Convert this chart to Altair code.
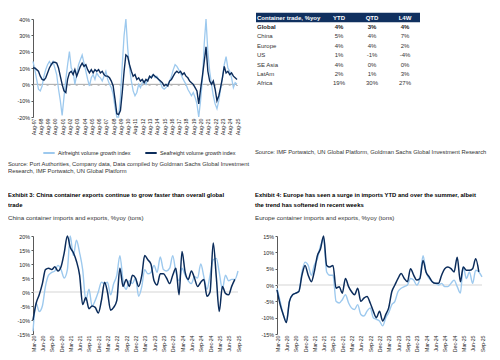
import altair as alt
import pandas as pd

DARK = "#0B2C5B"
LIGHT = "#9DC9EE"
NAVY = "#10305F"
AX = "#595959"
TXT = "#333333"
FONT = "Liberation Sans"

# ---------------- Exhibit (top-left): quarterly, Aug-97 .. Aug-25, %yoy
air_label = "Airfreight volume growth index"
sea_label = "Seafreight volume growth index"
sea_freight = [10, 10, 9, 8, 5, 3, 2.5, 4, 7, 10,
               12, 13.5, 13.5, 13, 10, 5, 0, -4, -5, 3,
               7, 8, 6, 9, 5, 8, 11, 13, 11, 12,
               9, 7, 9, 7, 9, 8, 9, 7, 8, 6,
               5, 5, 4, 2, -1, -9, -18, -18.5, -16, -5,
               8, 18, 17, 12, 8, 5, 6, 3, 4, 2,
               3, 1, 3, 2, 5, 4, 6, 5, 4, 3,
               2, 1, -1, 0, -1, 2, 3, 5, 7, 8,
               7, 8, 6, 7, 5, 4, 2, 1, 0, -2,
               -4, -12, -3, 5, 14, 23, 8, 2, 0, 2,
               -3, -10, -7, -2, 4, 11, 7, 8, 6, 7,
               5, 4, 3]
air_freight = [14, 9, 3, -3, -4, -1, 5, 9, 12, 14,
               12, 14, 10, 6, -3, -10, -19, -8, 3, 12,
               20, 10, 8, 0, 6, 12, 15, 18, 13, 8,
               3, -1, 4, 6, 3, 7, 5, 4, 2, 5,
               8, 3, 0, -2, -6, -14, -20, -20, -8, 12,
               30, 40, 22, 10, 2, -4, -7, -5, 0, -2,
               1, 2, 0, 3, 4, 5, 6, 4, 5, 3,
               1, -2, -3, -2, 0, 2, 5, 9, 12, 11,
               9, 7, 4, 2, 0, -3, -5, -7, -5, -8,
               -12, -20, -10, 3, 25, 40, 20, 8, 0, -7,
               -12, -15, -10, -3, 4, 12, 17, 10, 8, 4,
               -2, 1, 0]
source1 = ["Source: Port Authorities, Company data, Data compiled by Goldman Sachs Global Investment",
           "Research, IMF Portwatch, UN Global Platform"]

# ---------------- Table (top-right)
tbl_header = "Container trade, %yoy"
tbl_cols = ["YTD", "QTD", "L4W"]
tbl_rows = ["Global", "China", "Europe", "US", "SE Asia", "LatAm", "Africa"]
tbl_ytd = ["4%", "5%", "4%", "1%", "4%", "2%", "19%"]
tbl_qtd = ["3%", "4%", "4%", "-1%", "0%", "1%", "30%"]
tbl_l4w = ["4%", "7%", "2%", "-4%", "0%", "3%", "27%"]
source2 = "Source: IMF Portwatch, UN Global Platform, Goldman Sachs Global Investment Research"

# ---------------- Exhibit 3: China, monthly Mar-20 .. Sep-25
china_exp = [-10, -4, -1, 3, 8, 8.5, 8, 9, 7.5, 9,
             14, 20, 16, 14, 11, 6, -4.5, -2, -6, -5,
             -5.5, -7.5, -3, 3.5, 0, -6.5, -5.5, -3, 8.5, 2,
             4.5, 2, 6, 5, 2, 6, 13, 11.5, 10, 4,
             2.5, 6.5, 6.5, 5, 3, 6, 8.5, -1, 14.5, 7,
             4.5, 7.5, 5, 2, 3.5, 4.5, -1.5, 0, 17.5, 5,
             -7, 2, -0.5, -1, 2, 4.5]
china_imp = [-14, -4, -7, -5, 2, 6, 7, 7.5, 9.5, 8,
             5, 8, 20, 13, 18.5, 14, 8, -3, 1, -5,
             -3, 0, 3.5, 3, 3.5, -1, 3, 6, 13, 4,
             1, 4, 3, 5, -1.5, 2, 8, 6.5, 7, 9.5,
             7, 12.5, 8, 7.5, 8.5, 13, 7, 4, 8.5, 6,
             4, 3, 5.5, 5, 10, 5.5, 1, 6, 11.5, 12,
             7, 1, 6, 4, 4.5, 4.5, 7.5]
title3 = ["Exhibit 3: China container exports continue to grow faster than overall global", "trade"]
sub3 = "China container imports and exports, %yoy (tons)"

# ---------------- Exhibit 4: Europe, monthly Mar-20 .. Sep-25
europe_imp = [-1.5, -6, -9, -11.5, -5, -3, -2.5, -2, 3, 6,
              3, 1, 4, 9, 11, 15, 6, 5.5, 6, -1,
              -0.5, -2.5, 2, -0.5, -2, -3, -1, -5, -4, -3.5,
              -5.5, -8, -10, -8, -11, -9, -7, -2, 0, 2,
              3.5, 2, 1, 5, 3, 1.5, 2, 7.5, 4, 2.5,
              1, 0.5, 0.5, 3, 5, 5.5, 5, 4, 8.5, 1,
              5.5, 4.5, 4.5, 5, 8, 4]
europe_exp = [-1, -5, -9, -11, -5, -3, -2.5, -2, 4, 7,
              6, 3, 6, 8, 12, 14, 4, 3, 3, -5,
              -5.5, -4.5, -3, -5.5, -7, -7.5, -6, -9, -9.5, -8,
              -7, -10, -10.5, -11, -12.5, -10, -8.5, -6, -5, -2,
              -1, -0.5, 0, 2, 1.5, 0, 2, 9, 4, 2,
              1, 0.5, 0, 0.5, -0.5, -0.5, 0.5, 1.5, -0.5, -2.5,
              5.5, 2, 4, 0.5, 4.5, 4, 2.5]
title4 = ["Exhibit 4: Europe has seen a surge in imports YTD and over the summer, albeit",
          "the trend has softened in recent weeks"]
sub4 = "Europe container imports and exports, %yoy (tons)"


def dt(y, m):
    return alt.DateTime(year=y, month=m, date=1)


def dates(start, n, freq):
    return [f"{d:%Y-%m-%d}T00:00:00" for d in pd.date_range(start, periods=n, freq=freq)]


def x_axis(values):
    return alt.Axis(values=values, format="%b-%y", labelAngle=-90, labelAlign="right",
                    labelBaseline="middle", domain=False, ticks=False, grid=False,
                    labelOverlap=False, labelFontSize=5.2, labelPadding=1, title=None,
                    labelFont=FONT, labelColor="#262626")


def y_axis(values):
    return alt.Axis(values=values, labelExpr="datum.value + '%'", title=None, grid=False,
                    domainColor=AX, tickColor=AX, tickSize=2, labelFontSize=5.4,
                    labelPadding=1.5, labelFont=FONT, labelColor="#262626")


# ---- chart 1
year_ticks = [dt(y, 8) for y in range(1997, 2026)]
d1 = dates("1997-08-01", len(sea_freight), "3MS")
air_df = pd.DataFrame({"date": d1, "value": air_freight, "series": air_label})
sea_df = pd.DataFrame({"date": d1, "value": sea_freight, "series": sea_label})
tick_df = pd.DataFrame({"date": dates("1997-08-01", 29, "12MS"), "value": 0})
x1 = alt.X("date:T", scale=alt.Scale(domain=[dt(1997, 8), dt(2025, 8)]), axis=x_axis(year_ticks))
y1 = alt.Y("value:Q", scale=alt.Scale(domain=[-20, 40], nice=False),
           axis=y_axis(list(range(-20, 41, 10))))
col1 = alt.Color("series:N", scale=alt.Scale(domain=[air_label, sea_label], range=[LIGHT, DARK]),
                 legend=alt.Legend(orient="none", legendX=9, legendY=127, direction="horizontal",
                                   title=None, symbolType="stroke", symbolStrokeWidth=2,
                                   symbolSize=130, labelFontSize=5.4, labelFont=FONT,
                                   labelColor="#262626", columnPadding=10, labelOffset=2,
                                   labelLimit=300))
zero1 = alt.Chart(pd.DataFrame({"value": [0]})).mark_rule(color="#8C8C8C", strokeWidth=0.8).encode(y=y1)
zticks = alt.Chart(tick_df).mark_tick(color="#8C8C8C", size=2, thickness=0.7, yOffset=1).encode(x=x1, y=y1)
air_line = alt.Chart(air_df).mark_line(strokeWidth=1.3).encode(x=x1, y=y1, color=col1)
sea_line = alt.Chart(sea_df).mark_line(strokeWidth=1.4).encode(x=x1, y=y1, color=col1)
chart1 = alt.layer(zero1, zticks, air_line, sea_line).properties(
    width=204, height=98,
    title=alt.TitleParams(text=source1, orient="bottom", anchor="start", frame="group", dx=-25,
                          offset=26, fontSize=5.8, font=FONT, fontWeight="normal",
                          color=TXT, lineHeight=7.3))

# ---- table
yscale = alt.Scale(type="band", domain=[tbl_header] + tbl_rows, range=[-6.2, 69.0],
                   paddingInner=0, paddingOuter=0)
xscale = alt.Scale(type="point", domain=tbl_cols, range=[62, 128], padding=0)
cells = []
for r, a, b, c in zip(tbl_rows, tbl_ytd, tbl_qtd, tbl_l4w):
    for col, v in zip(tbl_cols, [a, b, c]):
        cells.append({"row": r, "col": col, "txt": v})
cells_df = pd.DataFrame(cells)
head_df = pd.DataFrame({"row": [tbl_header] * 3, "col": tbl_cols, "txt": tbl_cols})
rowlab_df = pd.DataFrame({"row": [tbl_header] + tbl_rows, "txt": [tbl_header] + tbl_rows})

ty = alt.Y("row:N", scale=yscale, axis=None)
tx = alt.X("col:N", scale=xscale, axis=None)
t_rect = alt.Chart(pd.DataFrame({"row": [tbl_header]})).mark_rect(fill=NAVY).encode(
    y=ty, x=alt.value(-21), x2=alt.value(143))
t_head = alt.Chart(head_df).mark_text(color="white", fontWeight="bold", fontSize=6, font=FONT).encode(
    x=tx, y=ty, text="txt:N")
t_hlab = alt.Chart(rowlab_df.iloc[:1]).mark_text(color="white", fontWeight="bold", fontSize=6,
                                                  font=FONT, align="left").encode(
    x=alt.value(-20), y=ty, text="txt:N")
t_glab = alt.Chart(rowlab_df.iloc[1:2]).mark_text(color="#222", fontWeight="bold", fontSize=6,
                                                   font=FONT, align="left").encode(
    x=alt.value(-20), y=ty, text="txt:N")
t_rlab = alt.Chart(rowlab_df.iloc[2:]).mark_text(color="#333", fontSize=6, font=FONT,
                                                  align="left").encode(
    x=alt.value(-20), y=ty, text="txt:N")
t_gval = alt.Chart(cells_df[cells_df.row == "Global"]).mark_text(color="#222", fontWeight="bold",
                                                                 fontSize=6, font=FONT).encode(
    x=tx, y=ty, text="txt:N")
t_val = alt.Chart(cells_df[cells_df.row != "Global"]).mark_text(color="#333", fontSize=6,
                                                                font=FONT).encode(
    x=tx, y=ty, text="txt:N")
table = alt.layer(t_rect, t_head, t_hlab, t_glab, t_rlab, t_gval, t_val).properties(
    width=205, height=98,
    title=alt.TitleParams(text=source2, orient="bottom", anchor="start", frame="group", dx=-22,
                          offset=32, fontSize=5.8, font=FONT, fontWeight="normal", color=TXT))


# ---- bottom charts
def bottom_chart(dark_vals, light_vals, ydom, yvals, title, sub, dx):
    dm = dates("2020-03-01", len(light_vals), "MS")
    ddf = pd.DataFrame({"date": dm[:len(dark_vals)], "value": dark_vals})
    ldf = pd.DataFrame({"date": dm, "value": light_vals})
    xq = [dt(y, m) for y in range(2020, 2026) for m in (3, 6, 9, 12)]
    xq = [v for v in xq if not (v["year"] == 2025 and v["month"] == 12)]
    xx = alt.X("date:T", scale=alt.Scale(domain=[dt(2020, 3), dt(2025, 9)]), axis=x_axis(xq))
    yy = alt.Y("value:Q", scale=alt.Scale(domain=ydom, nice=False), axis=y_axis(yvals))
    z = alt.Chart(pd.DataFrame({"value": [0]})).mark_rule(color="#D0D0D0", strokeWidth=0.9).encode(y=yy)
    lt = alt.Chart(ldf).mark_line(color=LIGHT, strokeWidth=1.4, interpolate="monotone").encode(x=xx, y=yy)
    dk = alt.Chart(ddf).mark_line(color=DARK, strokeWidth=1.5, interpolate="monotone").encode(x=xx, y=yy)
    return alt.layer(z, lt, dk).properties(
        width=205, height=98,
        title=alt.TitleParams(text=title, subtitle=sub, orient="top", anchor="start", frame="group",
                              dx=dx, offset=12, fontSize=5.9, font=FONT, fontWeight="bold",
                              color="#000000", lineHeight=10, subtitleFont=FONT,
                              subtitleFontSize=6.2, subtitleColor=TXT, subtitlePadding=7))


chart3 = bottom_chart(china_exp, china_imp, [-15, 20], list(range(-15, 21, 5)), title3, sub3, -25)
chart4 = bottom_chart(europe_imp, europe_exp, [-15, 15], list(range(-15, 16, 5)), title4, sub4, -22)

chart = alt.concat(chart1, table, chart3, chart4, columns=2,
                   spacing={"row": 119, "column": 39}, bounds="flush").properties(
    padding={"left": 0, "top": 4, "right": 2, "bottom": 0}
).configure_view(stroke=None)

chart.save("out.html", embed_options={"renderer": "svg", "actions": False})
